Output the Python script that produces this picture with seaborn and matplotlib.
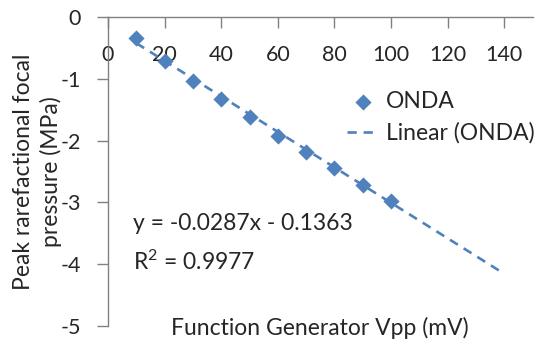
import numpy as np
import pandas as pd
import matplotlib
matplotlib.use("Agg")
import matplotlib.pyplot as plt
import seaborn as sns

# ---- data ----
vpp = [10, 20, 30, 40, 50, 60, 70, 80, 90, 100]
pressure = [-0.34, -0.72, -1.03, -1.33, -1.62, -1.93, -2.18, -2.45, -2.72, -2.97]
slope = -0.0287
intercept = -0.1363
r2 = 0.9977
trend_x = [10, 140]
x_ticks = [0, 20, 40, 60, 80, 100, 120, 140]
y_ticks = [0, -1, -2, -3, -4, -5]

sns.set_theme(style="white")
plt.rcParams['font.family'] = ['Lato', 'DejaVu Sans']
plt.rcParams['axes.unicode_minus'] = False
plt.rcParams['mathtext.fontset'] = 'custom'
plt.rcParams['mathtext.rm'] = 'Lato'
plt.rcParams['mathtext.it'] = 'Lato:italic'
plt.rcParams['mathtext.bf'] = 'Lato:bold'

color = "#4F81BD"
fs_tick = 15.5
fs = 16.5

fig = plt.figure(figsize=(5.37, 3.45), dpi=100)
ax = fig.add_axes([108/537, 1-326/345, (532.5-108)/537, (326-17)/345])

df = pd.DataFrame({"x": vpp, "y": pressure})
tdf = pd.DataFrame({"x": trend_x, "y": [slope*v + intercept for v in trend_x]})

sns.lineplot(data=tdf, x="x", y="y", ax=ax, color=color, lw=1.9,
             linestyle=(0, (3.5, 2.6)), label="Linear (ONDA)", zorder=2)
sns.scatterplot(data=df, x="x", y="y", ax=ax, color=color, marker="D",
                s=68, linewidth=0, label="ONDA", zorder=3)

ax.set_xlim(0, 150)
ax.set_ylim(-5, 0)
ax.set_xticks(x_ticks)
ax.set_yticks(y_ticks)
ax.set_xticklabels([str(v) for v in x_ticks])
ax.set_yticklabels([str(v) for v in y_ticks])

for s in ["top", "right"]:
    ax.spines[s].set_visible(False)
ax.spines["bottom"].set_position(("data", 0))
for s in ["left", "bottom"]:
    ax.spines[s].set_color("#808080")
    ax.spines[s].set_linewidth(1.0)

ax.tick_params(axis="x", direction="out", length=8, width=1, color="#808080",
               pad=12.5, labelsize=fs_tick, bottom=True)
ax.tick_params(axis="y", direction="out", length=8, width=1, color="#808080",
               pad=11.5, labelsize=fs_tick, left=True)
ax.set_xlabel("")
ax.set_ylabel("")

fig.text(320/537, 1-328/345, "Function Generator Vpp (mV)", ha="center",
         va="center", fontsize=fs)
fig.text(37.5/537, 1-172/345, "Peak rarefactional focal\npressure (MPa)",
         ha="center", va="center", rotation=90, fontsize=fs,
         multialignment="center", linespacing=1.3)

fig.text(133/537, 1-223/345, f"y = {slope}x - {abs(intercept)}", ha="left",
         va="center", fontsize=fs)
fig.text(133/537, 1-262/345, f"R$^{{\\mathrm{{2}}}}$ = {r2}", ha="left",
         va="center", fontsize=fs)

h, l = ax.get_legend_handles_labels()
order = [l.index("ONDA"), l.index("Linear (ONDA)")]
if ax.legend_:
    ax.legend_.remove()
fig.legend([h[i] for i in order], [l[i] for i in order], loc="center left",
           bbox_to_anchor=(347/537, 1-117.5/345), frameon=False, fontsize=fs,
           borderpad=0, borderaxespad=0, handlelength=1.4, handletextpad=0.3,
           labelspacing=0.45)

fig.savefig("out.png", dpi=100)
